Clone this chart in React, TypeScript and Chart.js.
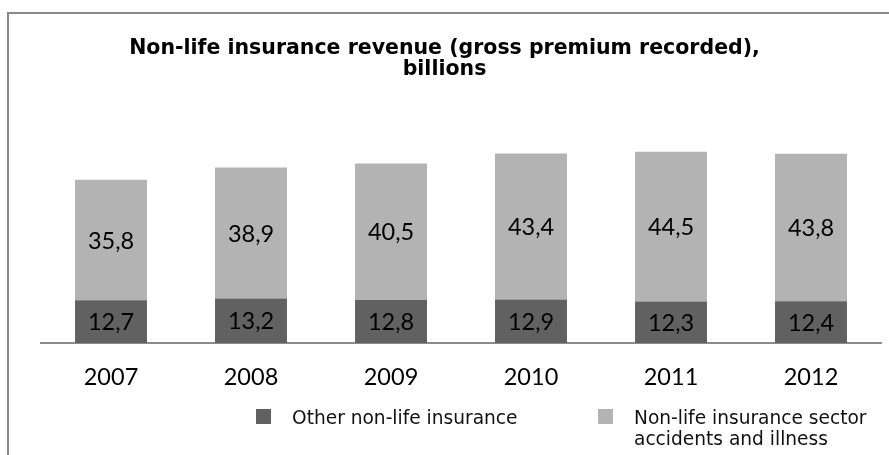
import React, { useEffect, useRef } from "react";
import { Chart, registerables } from "chart.js";

Chart.register(...registerables);

// ---- data ----
const years = ["2007", "2008", "2009", "2010", "2011", "2012"];
const otherNonLife = [12.7, 13.2, 12.8, 12.9, 12.3, 12.4];
const accidentsIllness = [35.8, 38.9, 40.5, 43.4, 44.5, 43.8];
const otherLabelLines = ["Other non-life insurance"];
const accidentsLabelLines = ["Non-life insurance sector", "accidents and illness"];
const titleLines = ["Non-life insurance revenue (gross premium recorded),", "billions"];

const DARK = "#616161";
const LIGHT = "#b3b3b3";

const frame = {
  id: "frame",
  beforeDraw(chart: any) {
    const { ctx } = chart;
    ctx.save();
    ctx.fillStyle = "#ffffff";
    ctx.fillRect(0, 0, chart.width, chart.height);
    ctx.strokeStyle = "#898989";
    ctx.lineWidth = 2;
    ctx.strokeRect(8, 13, chart.width + 20, chart.height + 20);
    ctx.restore();
  },
};

const valueLabels = {
  id: "valueLabels",
  afterDatasetsDraw(chart: any) {
    const { ctx } = chart;
    ctx.save();
    ctx.font = "23.5px Lato";
    ctx.fillStyle = "#000000";
    ctx.textAlign = "center";
    ctx.textBaseline = "middle";
    chart.data.datasets.forEach((ds: any, di: number) => {
      const meta = chart.getDatasetMeta(di);
      meta.data.forEach((bar: any, i: number) => {
        const p = bar.getProps(["x", "y", "base"], true);
        const v = ds.data[i] as number;
        ctx.fillText(v.toFixed(1).replace(".", ","), p.x, (p.y + p.base) / 2 + 1);
      });
    });
    ctx.restore();
  },
};

const legendLines = [otherLabelLines, accidentsLabelLines];

const customLegend = {
  id: "customLegend",
  afterDraw(chart: any) {
    const { ctx } = chart;
    const boxX = [256, 598];
    const boxTop = 409;
    const box = 15;
    ctx.save();
    ctx.font = "18.6px 'DejaVu Sans'";
    ctx.textAlign = "left";
    ctx.textBaseline = "alphabetic";
    chart.data.datasets.forEach((ds: any, i: number) => {
      ctx.fillStyle = ds.backgroundColor;
      ctx.fillRect(boxX[i], boxTop, box, box);
      ctx.fillStyle = "#111111";
      legendLines[i].forEach((line, li) => {
        ctx.fillText(line, boxX[i] + 36, 424 + li * 21);
      });
    });
    ctx.restore();
  },
};

export default function App() {
  const ref = useRef<HTMLCanvasElement | null>(null);

  useEffect(() => {
    if (!ref.current) return;
    const chart = new Chart(ref.current, {
      type: "bar",
      data: {
        labels: years,
        datasets: [
          {
            label: otherLabelLines.join(" "),
            data: otherNonLife,
            backgroundColor: DARK,
            borderWidth: 0,
          },
          {
            label: accidentsLabelLines.join(" "),
            data: accidentsIllness,
            backgroundColor: LIGHT,
            borderWidth: 0,
          },
        ],
      },
      options: {
        responsive: false,
        animation: false,
        layout: { padding: { left: 8, right: 8, top: 0, bottom: 44 } },
        datasets: {
          bar: { categoryPercentage: 1, barPercentage: 0.514 },
        },
        scales: {
          x: {
            stacked: true,
            grid: { display: false, drawTicks: false },
            border: { display: true, color: "#8c8c8c", width: 2 },
            ticks: {
              padding: 20,
              color: "#000000",
              font: { family: "Lato", size: 23.5, lineHeight: "28px" },
            },
          },
          y: {
            stacked: true,
            display: true,
            min: 0,
            max: 60,
            grid: { display: false, drawTicks: false },
            border: { display: false },
            ticks: { display: false },
            afterFit(scale: any) {
              scale.width = 33;
            },
          },
        },
        plugins: {
          legend: { display: false },
          tooltip: { enabled: false },
          title: {
            display: true,
            text: titleLines,
            color: "#000000",
            font: { family: "'DejaVu Sans'", size: 20.5, weight: "bold", lineHeight: "21px" },
            padding: { top: 38, bottom: 61 },
          },
        },
      },
      plugins: [frame, valueLabels, customLegend],
    });
    return () => chart.destroy();
  }, []);

  return (
    <div style={{ position: "fixed", left: 0, top: 0, width: 889, height: 455 }}>
      <canvas ref={ref} width={889} height={455} style={{ display: "block" }} />
    </div>
  );
}
